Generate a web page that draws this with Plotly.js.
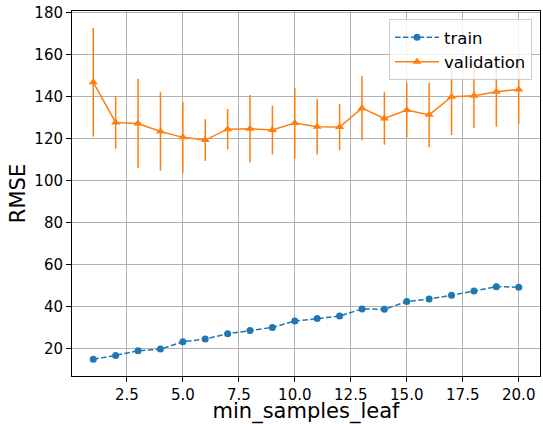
<!DOCTYPE html>
<html>
<head>
<meta charset="utf-8">
<script src="https://cdn.plot.ly/plotly-3.0.1.min.js"></script>
<style>html,body{margin:0;padding:0;background:#fff;}#chart{width:543px;height:424px;}</style>
</head>
<body>
<div id="chart"></div>
<script>
const minSamplesLeaf = [1,2,3,4,5,6,7,8,9,10,11,12,13,14,15,16,17,18,19,20];
const trainRMSE = [15.0,16.8,19.0,19.8,23.3,24.6,27.1,28.7,30.1,33.1,34.4,35.5,38.9,38.7,42.4,43.6,45.4,47.4,49.5,49.2];
const trainErr = [0.6,0.7,0.8,0.7,0.9,0.8,0.9,0.9,1.0,1.0,1.0,1.1,1.1,1.0,1.2,1.1,1.2,1.2,1.6,1.2];
const validRMSE = [146.7,127.6,127.1,123.3,120.5,119.2,124.4,124.6,124.0,127.3,125.5,125.4,134.4,129.5,133.5,131.2,139.8,140.3,142.2,143.3];
const validErr = [25.8,12.5,21.3,18.7,16.8,9.9,9.6,16.0,11.6,16.8,13.2,11.0,15.3,12.5,13.0,15.3,18.2,15.3,16.7,16.3];
const xTickVals = [2.5,5,7.5,10,12.5,15,17.5,20];
const xTickText = ['2.5','5.0','7.5','10.0','12.5','15.0','17.5','20.0'];

const traces = [
  {
    x: minSamplesLeaf, y: trainRMSE, name: 'train', type: 'scatter', mode: 'lines+markers',
    line: {color: '#1f77b4', width: 1.5, dash: '5.5px,2.4px'},
    marker: {color: '#1f77b4', size: 7, symbol: 'circle'},
    error_y: {type: 'data', array: trainErr, visible: true, color: '#1f77b4', thickness: 1.5, width: 0}
  },
  {
    x: minSamplesLeaf, y: validRMSE, name: 'validation', type: 'scatter', mode: 'lines+markers',
    line: {color: '#ff7f0e', width: 1.5},
    marker: {color: '#ff7f0e', size: 8, symbol: 'triangle-up'},
    error_y: {type: 'data', array: validErr, visible: true, color: '#ff7f0e', thickness: 1.5, width: 0}
  }
];

const layout = {
  width: 543, height: 424,
  margin: {l: 72, r: 3, t: 11, b: 48},
  paper_bgcolor: '#fff', plot_bgcolor: '#fff',
  font: {family: 'DejaVu Sans', size: 15, color: '#000'},
  showlegend: true,
  legend: {
    x: 0.983, y: 0.978, xanchor: 'right', yanchor: 'top',
    bgcolor: 'rgba(255,255,255,0.8)', bordercolor: '#cccccc', borderwidth: 1,
    itemwidth: 44,
    font: {family: 'DejaVu Sans', size: 16.5, color: '#000'}
  },
  xaxis: {
    range: [0.05, 20.95],
    tickvals: xTickVals, ticktext: xTickText,
    showgrid: true, gridcolor: '#b0b0b0', gridwidth: 1,
    zeroline: false,
    showline: true, mirror: true, linecolor: '#000', linewidth: 1,
    ticks: 'outside', ticklen: 5, tickcolor: '#000',
    tickfont: {family: 'DejaVu Sans', size: 15, color: '#000'},
    title: {text: 'min_samples_leaf', font: {family: 'DejaVu Sans', size: 21, color: '#000'}}
  },
  yaxis: {
    range: [7, 180.6],
    tick0: 0, dtick: 20,
    automargin: true,
    showgrid: true, gridcolor: '#b0b0b0', gridwidth: 1,
    zeroline: false,
    showline: true, mirror: true, linecolor: '#000', linewidth: 1,
    ticks: 'outside', ticklen: 5, tickcolor: '#000',
    tickfont: {family: 'DejaVu Sans', size: 15, color: '#000'},
    title: {text: 'RMSE', font: {family: 'DejaVu Sans', size: 21, color: '#000'}, standoff: 3}
  }
};

Plotly.newPlot('chart', traces, layout, {displayModeBar: false, staticPlot: true});
</script>
</body>
</html>
